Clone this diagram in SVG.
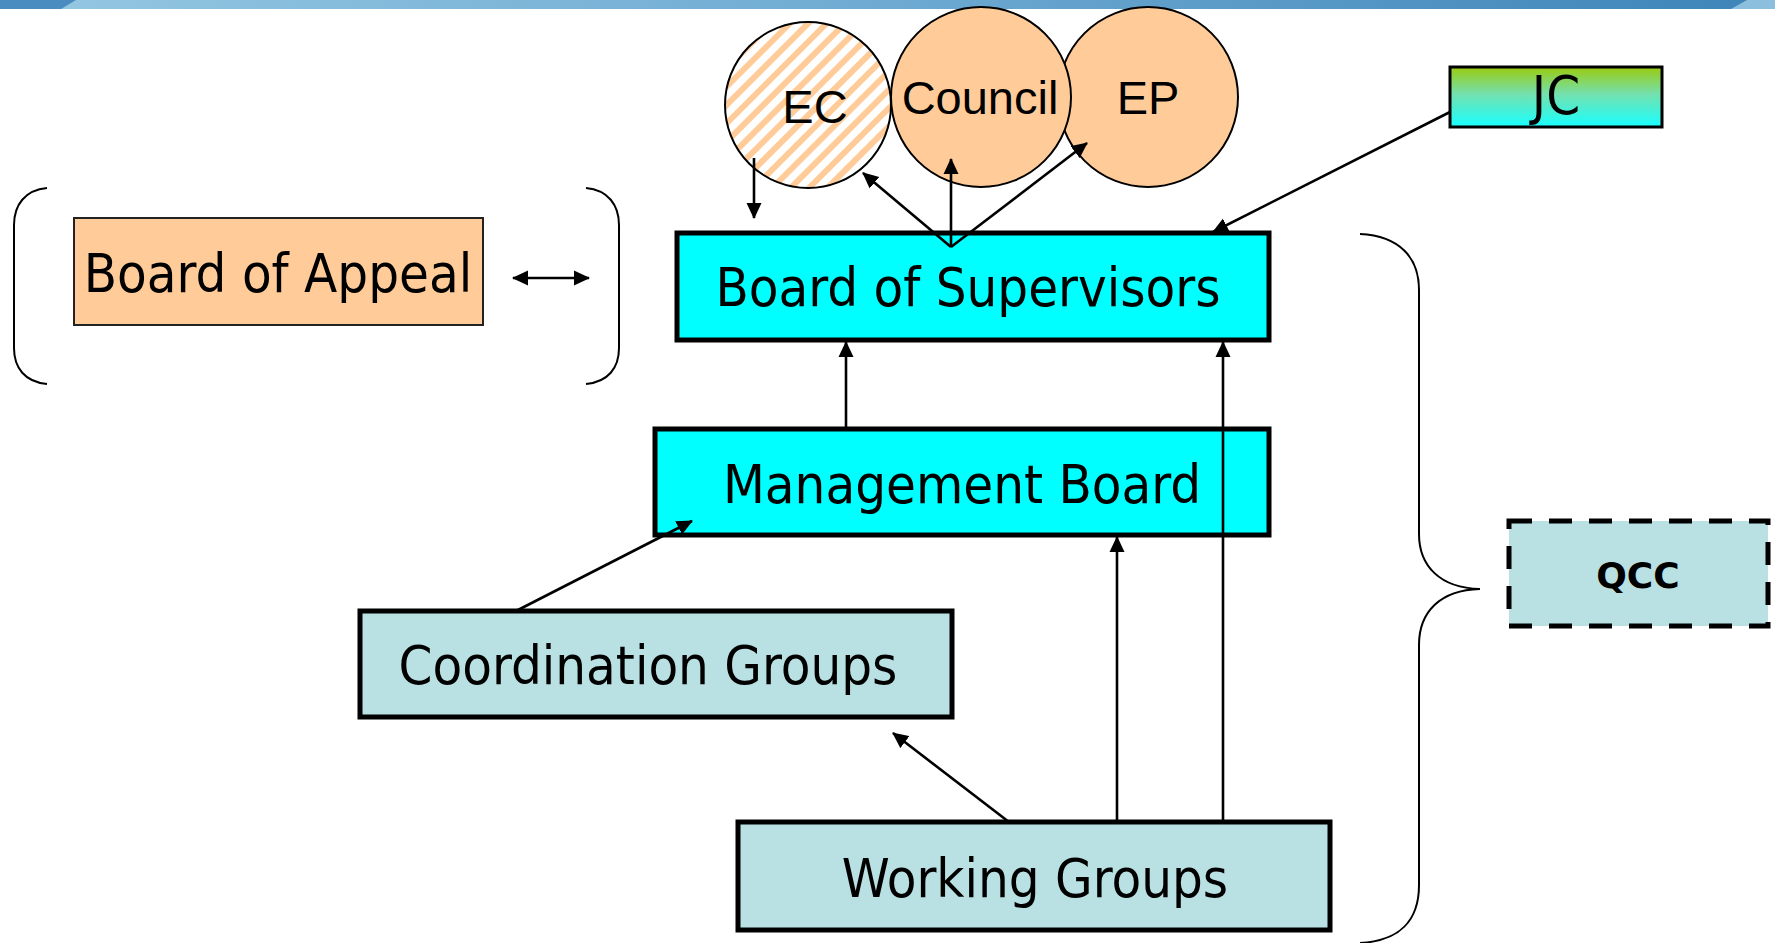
<svg xmlns="http://www.w3.org/2000/svg" width="1775" height="943" viewBox="0 0 1775 943">
<style>
.lbl{font-family:"DejaVu Sans Condensed","DejaVu Sans",sans-serif;font-size:54px;fill:#000;text-anchor:middle}
.cl{font-family:"Liberation Sans",Arial,sans-serif;font-size:47px;fill:#000;text-anchor:middle}
.box{stroke:#000;stroke-width:5}
.cyan{fill:#00ffff}
.teal{fill:#b9e0e3}
.circ{stroke:#000;stroke-width:2}
.con{stroke:#000;stroke-width:2.6;fill:none}
.brk{stroke:#000;stroke-width:2;fill:none}
</style>
<defs>
<linearGradient id="ban" x1="0" x2="1" y1="0" y2="0"><stop offset="0" stop-color="#95c8e2"/><stop offset="0.5" stop-color="#6eaad2"/><stop offset="1" stop-color="#3d84b8"/></linearGradient>
<linearGradient id="jc" x1="0" x2="0" y1="0" y2="1"><stop offset="0" stop-color="#9acb0e"/><stop offset="0.45" stop-color="#74e0ae"/><stop offset="1" stop-color="#18ffff"/></linearGradient>
<pattern id="hatch" width="13" height="13" patternUnits="userSpaceOnUse" patternTransform="rotate(45)"><rect width="13" height="13" fill="#fff"/><rect width="6" height="13" fill="#ffcc99"/></pattern>
<marker id="arr" markerWidth="16" markerHeight="16" refX="15" refY="8" orient="auto-start-reverse" markerUnits="userSpaceOnUse"><path d="M0,0.5 L16,8 L0,15.5 z" fill="#000"/></marker>
</defs>
<rect width="1775" height="943" fill="#fff"/>
<g id="banner">
<rect x="0" y="0" width="1775" height="9" fill="url(#ban)"/>
<polygon points="0,0 76,0 61,9 0,9" fill="#4a8cc0"/>
<polygon points="1747,0 1775,0 1775,9 1731,9" fill="#8cbfdd"/>
</g>
<g id="bracket-left"><path class="brk" d="M47,188 C25,190 14,205 14,225 L14,348 C14,368 25,382 47,384"/></g>
<g id="bracket-right"><path class="brk" d="M586,188 C608,190 619,205 619,225 L619,348 C619,368 608,382 586,384"/></g>
<g id="brace-qcc"><path class="brk" d="M1360,234 C1400,236 1419,258 1419,290 L1419,534 C1419,566 1440,588 1480,589 C1440,590 1419,612 1419,645 L1419,885 C1419,920 1400,941 1360,943"/></g>
<g id="node-ec"><circle class="circ" cx="808" cy="105" r="83" fill="url(#hatch)"/><text class="cl" x="815" y="123" font-size="49">EC</text></g>
<g id="node-ep"><circle class="circ" cx="1148" cy="97" r="90" fill="#ffcc99"/><text class="cl" x="1148" y="114">EP</text></g>
<g id="node-council"><circle class="circ" cx="981" cy="97" r="90" fill="#ffcc99"/><text class="cl" x="980" y="114">Council</text></g>
<g id="node-jc"><rect x="1450" y="67" width="212" height="60" fill="url(#jc)" stroke="#000" stroke-width="3"/><text class="lbl" x="1556" y="114" font-size="49">JC</text></g>
<g id="node-boa"><rect x="74" y="218" width="409" height="107" fill="#ffcc99" stroke="#222" stroke-width="2"/><text class="lbl" x="278" y="292">Board of Appeal</text></g>
<g id="node-bos"><rect class="box cyan" x="677" y="233" width="592" height="107"/><text class="lbl" x="968" y="306">Board of Supervisors</text></g>
<g id="node-mb"><rect class="box cyan" x="655" y="429" width="614" height="106"/><text class="lbl" x="962" y="503" font-size="53">Management Board</text></g>
<g id="node-cg"><rect class="box teal" x="360" y="611" width="592" height="106"/><text class="lbl" x="648" y="684" font-size="53.5">Coordination Groups</text></g>
<g id="node-wg"><rect class="box teal" x="738" y="822" width="592" height="108"/><text class="lbl" x="1035" y="897">Working Groups</text></g>
<g id="node-qcc"><rect x="1509" y="521" width="259" height="105" fill="#b9e0e3" stroke="#000" stroke-width="5" stroke-dasharray="23 17"/><text x="1638" y="588" font-family="DejaVu Sans,Verdana,sans-serif" font-weight="bold" font-size="36" text-anchor="middle">QCC</text></g>
<g id="connectors">
<path class="con" d="M754,158 L754,218" marker-end="url(#arr)"/>
<path class="con" d="M951,247 L863,173" marker-end="url(#arr)"/>
<path class="con" d="M951,247 L951,159" marker-end="url(#arr)"/>
<path class="con" d="M951,247 L1087,143" marker-end="url(#arr)"/>
<path class="con" d="M1450,112 L1213,232" marker-end="url(#arr)"/>
<path class="con" d="M846,429 L846,342" marker-end="url(#arr)"/>
<path class="con" d="M1223,822 L1223,342" marker-end="url(#arr)"/>
<path class="con" d="M1117,822 L1117,537" marker-end="url(#arr)"/>
<path class="con" d="M1009,822 L893,733" marker-end="url(#arr)"/>
<path class="con" d="M516,611 L692,521" marker-end="url(#arr)"/>
<path class="con" d="M513,278 L589,278" marker-start="url(#arr)" marker-end="url(#arr)"/>
</g>
</svg>
